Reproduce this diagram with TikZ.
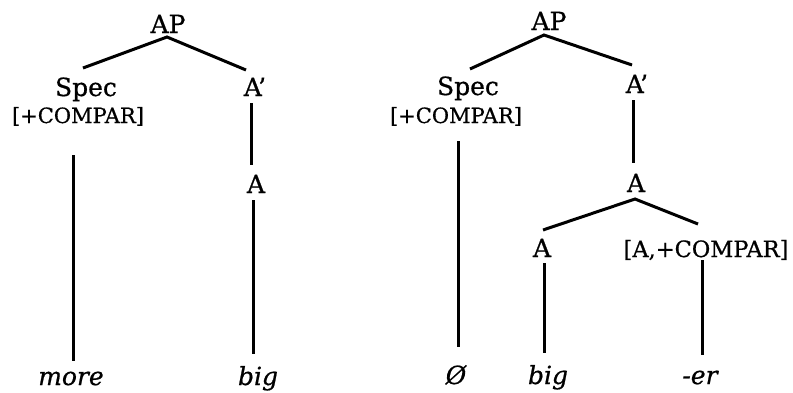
\documentclass[tikz,border=0pt]{standalone}
\usepackage{fontspec}
\setmainfont{DejaVu Serif}[FakeBold=0.7]
\usetikzlibrary{calc}
\begin{document}
\begin{tikzpicture}[x=1pt,y=-1pt,
  lab/.style={anchor=base,inner sep=0pt,font=\fontsize{25}{25}\selectfont},
  feat/.style={anchor=base,inner sep=0pt,font=\fontsize{21}{21}\selectfont},
  featb/.style={anchor=base,inner sep=0pt,font=\fontsize{22.5}{22.5}\selectfont},
  word/.style={anchor=base,inner sep=0pt,font=\fontsize{25}{25}\selectfont\itshape},
  br/.style={line width=3pt}]
\useasboundingbox (0,0) rectangle (793,392);
% left tree
\node[lab] (ap1) at (168,33) {AP};
\node[lab] (spec1) at (86,96) {Spec};
\node[feat] (comp1) at (78,123) {[+COMPAR]};
\node[lab] (a1p) at (255,96) {A’};
\node[lab] (a1) at (256,193) {A};
\node[word] (more) at (71,385) {more};
\node[word] (big1) at (258,385) {big};
\draw[br] ($(spec1.base)+(-3,-28)$) -- ($(ap1.base)+(-1,4)$) -- ($(a1p.base)+(-9,-26)$);
\draw[br] ($(a1p.base)+(-4,7)$) -- ($(a1.base)+(-5,-28)$);
\draw[br] ($(a1.base)+(-3,7)$) -- ($(big1.base)+(-5,-31)$);
\draw[br] ($(comp1.base)+(-5,32)$) -- ($(more.base)+(2,-24)$);
% right tree
\node[lab] (ap2) at (549,30) {AP};
\node[lab] (spec2) at (468,95) {Spec};
\node[feat] (comp2) at (456,123) {[+COMPAR]};
\node[lab] (a2p) at (637,93) {A’};
\node[lab] (a2) at (636,192) {A};
\node[lab] (a3) at (542,257) {A};
\node[featb] (compa) at (706,257) {[A,+COMPAR]};
\node[word] (zero) at (456,384) {Ø};
\node[word] (big2) at (548,384) {big};
\node[word] (er) at (700,384) {-er};
\draw[br] ($(spec2.base)+(2,-26)$) -- ($(ap2.base)+(-5,5)$) -- ($(a2p.base)+(-5,-28)$);
\draw[br] ($(a2p.base)+(-4,7)$) -- ($(a2.base)+(-3,-29)$);
\draw[br] ($(a3.base)+(1,-27)$) -- ($(a2.base)+(-1,7)$) -- ($(compa.base)+(-8,-33)$);
\draw[br] ($(a3.base)+(2,6)$) -- ($(big2.base)+(-4,-31)$);
\draw[br] ($(compa.base)+(-4,3)$) -- ($(er.base)+(2,-29)$);
\draw[br] ($(comp2.base)+(2,18)$) -- ($(zero.base)+(2,-37)$);
\end{tikzpicture}
\end{document}
